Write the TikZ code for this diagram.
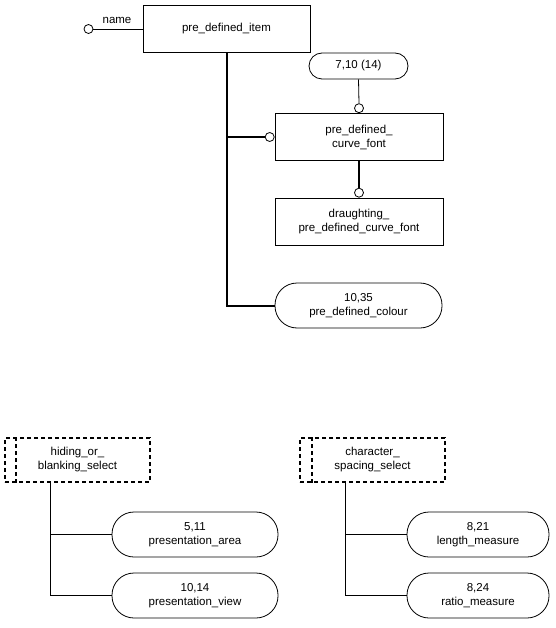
\documentclass[tikz,border=0pt]{standalone}
\usepackage{fontspec}
\setmainfont{Liberation Sans}
\begin{document}
\begin{tikzpicture}[x=1pt,y=-1pt,
  every node/.style={font=\fontsize{11.5}{14}\selectfont, inner sep=0pt},
  ent/.style={draw, line width=0.8pt, align=center, minimum width=#1, minimum height=47pt},
  ent/.default=168pt,
  rnd/.style={draw, line width=0.8pt, align=center, rounded corners=22pt, minimum width=#1, minimum height=45pt},
  rnd/.default=167pt,
  sel/.style={draw, line width=1.7pt, dash pattern=on 4pt off 3pt, align=center, minimum width=#1, minimum height=44pt},
  seldash/.style={line width=1.7pt, dash pattern=on 4pt off 3pt},
  oc/.style={draw, circle, line width=0.8pt, minimum size=9pt, fill=white},
  thk/.style={line width=2pt},
  thn/.style={line width=0.8pt}
]
\useasboundingbox (0,0) rectangle (555,628);

% top part
\node[ent=167pt] (item) at (226.5,28.5) {pre\_defined\_item};
\node[oc] (nm) at (88.5,29) {};
\node (nmlbl) at (117,20) {name};
\draw[thn] (nm.east) -- (item.west |- nm.east);

\node[rnd=99pt, minimum height=26pt, rounded corners=13pt] (c710) at (358.5,66) {7,10 (14)};
\node[ent] (cf) at (359,137) {pre\_defined\_\\curve\_font};
\node[ent] (dr) at (359,221.5) {draughting\_\\pre\_defined\_curve\_font};
\node[rnd] (col) at (358.5,305.5) {10,35\\pre\_defined\_colour};

\node[oc, anchor=south] (o2) at (cf.north) {};
\node[oc, anchor=south] (o3) at (dr.north) {};
\node[oc, anchor=east] (o1) at (cf.west) {};

\draw[thn] (c710.south) -- (o2.north);
\draw[thk] (cf.south) -- (o3.north);
\draw[thk] (item.south) -- (item.south |- col.west) -- (col.west);
\draw[thk] (item.south |- o1.west) -- (o1.west);

% bottom left
\node[sel=145pt] (hid) at (77.5,460) {hiding\_or\_\\blanking\_select};
\coordinate (hidin) at (16,0);
\draw[seldash] (hid.north -| hidin) -- (hid.south -| hidin);
\node[rnd=166pt] (area) at (195,534.5) {5,11\\presentation\_area};
\node[rnd=166pt] (view) at (195,595.5) {10,14\\presentation\_view};
\coordinate (hx) at (50,0);
\draw[thn] (hid.south -| hx) -- (view.west -| hx) -- (view.west);
\draw[thn] (area.west -| hx) -- (area.west);

% bottom right
\node[sel=145pt] (chs) at (372.5,460) {character\_\\spacing\_select};
\coordinate (chsin) at (312,0);
\draw[seldash] (chs.north -| chsin) -- (chs.south -| chsin);
\node[rnd=142pt] (len) at (478,534.5) {8,21\\length\_measure};
\node[rnd=142pt] (rat) at (478,595.5) {8,24\\ratio\_measure};
\coordinate (cx) at (345,0);
\draw[thn] (chs.south -| cx) -- (rat.west -| cx) -- (rat.west);
\draw[thn] (len.west -| cx) -- (len.west);
\end{tikzpicture}
\end{document}
